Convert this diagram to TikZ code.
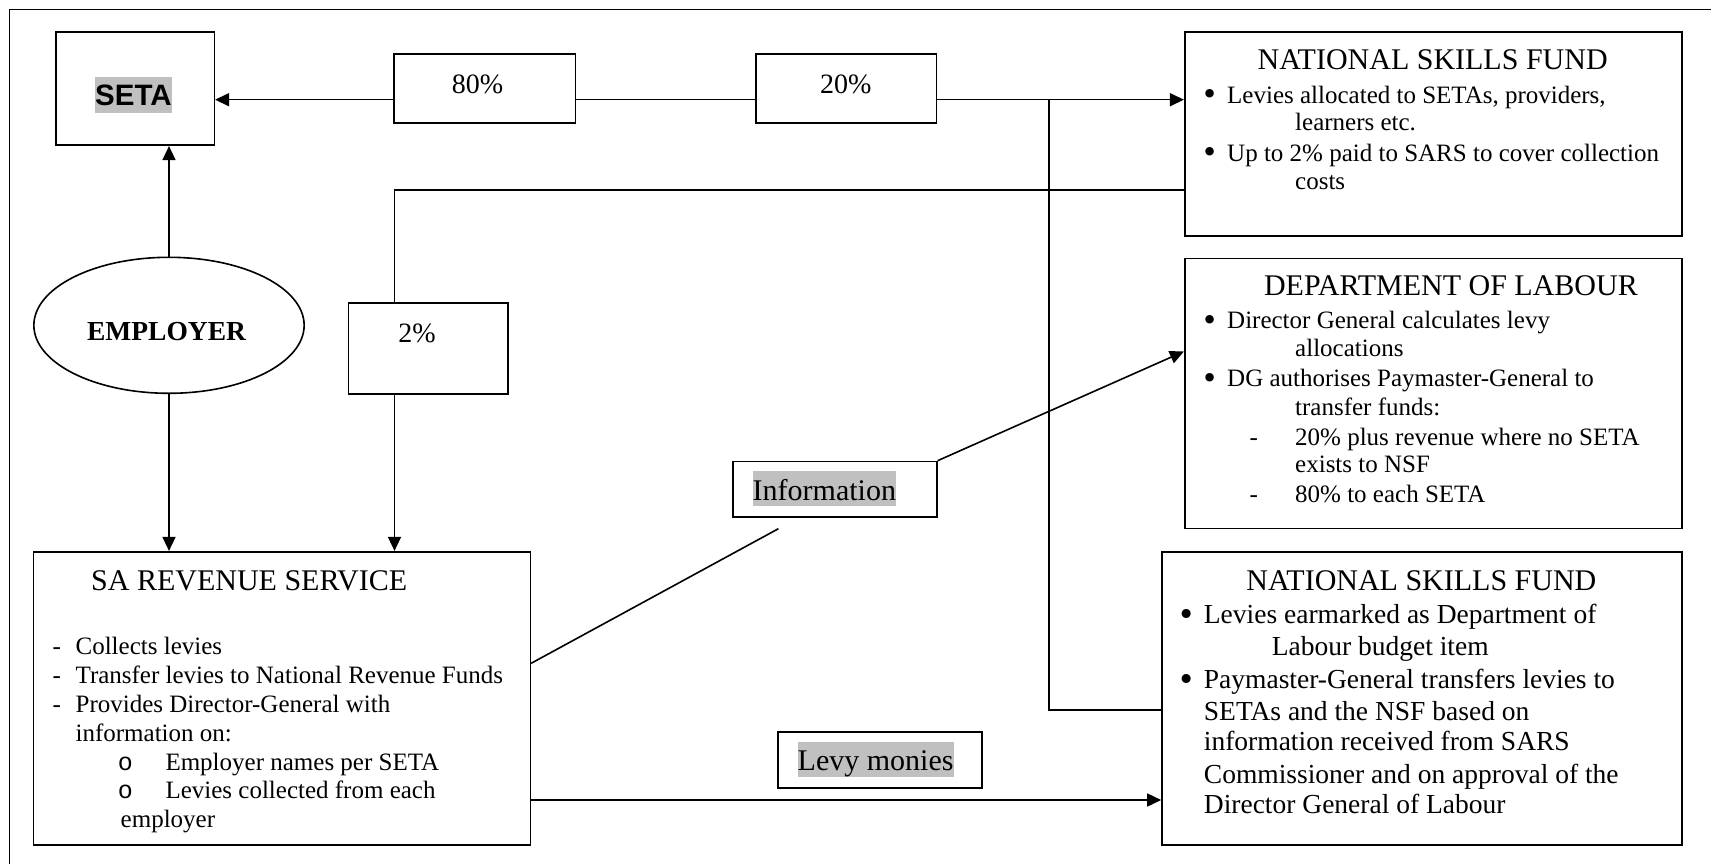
\documentclass[tikz,border=0pt]{standalone}
\usepackage{fontspec}
\setmainfont{Liberation Serif}
\newfontfamily\arialfont{Liberation Sans}
\newfontfamily\dejavufont{DejaVu Sans}
\newfontfamily\monofont{Liberation Mono}
\usetikzlibrary{arrows.meta,shapes.geometric}
\definecolor{hl}{RGB}{192,192,192}
\begin{document}
\begin{tikzpicture}[x=1pt,y=-1pt,
  box/.style={draw, line width=1.6pt, inner sep=0pt, rectangle},
  conn/.style={line width=1.6pt},
  arr/.style={conn, -{Triangle[length=14pt,width=13pt]}},
  body/.style={inner sep=0pt, anchor=base west, font=\fontsize{25pt}{29pt}\selectfont},
  bodyb/.style={inner sep=0pt, anchor=base west, font=\fontsize{27.5pt}{31pt}\selectfont},
  ttl/.style={inner sep=0pt, font=\fontsize{30pt}{34pt}\selectfont},
  pct/.style={inner sep=0pt, anchor=base, font=\fontsize{28pt}{32pt}\selectfont},
  bul/.style={inner sep=0pt, anchor=base, font=\dejavufont\fontsize{29pt}{32pt}\selectfont},
  bulb/.style={inner sep=0pt, anchor=base, font=\dejavufont\fontsize{31pt}{34pt}\selectfont},
  mono/.style={inner sep=0pt, anchor=base, font=\monofont\fontsize{25pt}{29pt}\selectfont},
  hlt/.style={inner sep=0pt, anchor=base west, fill=hl},
]
\useasboundingbox (0,0) rectangle (1711,864);
% outer frame
\draw[line width=1.5pt] (9.5,864) -- (9.5,9.5) -- (1711,9.5);

% boxes
\node[box, minimum width=158.4pt, minimum height=113pt] (seta) at (135.1,88.8) {};
\node[box, minimum width=181.5pt, minimum height=68.7pt] (p80) at (484.75,88.65) {};
\node[box, minimum width=180.5pt, minimum height=68.7pt] (p20) at (846.25,88.65) {};
\node[box, minimum width=497.3pt, minimum height=203.4pt] (nsf1) at (1433.35,134) {};
\node[box, minimum width=497.3pt, minimum height=270pt] (dol) at (1433.35,393.3) {};
\node[box, minimum width=159.6pt, minimum height=91.3pt] (p2) at (428.4,348.35) {};
\node[draw, ellipse, line width=1.6pt, inner sep=0pt, minimum width=270.3pt, minimum height=136pt] (emp) at (169,325.3) {};
\node[box, minimum width=204pt, minimum height=55.2pt] (info) at (834.8,489.1) {};
\node[box, minimum width=204pt, minimum height=55.7pt] (levy) at (880,759.85) {};
\node[box, minimum width=496.7pt, minimum height=293.3pt] (sars) at (282,698.35) {};
\node[box, minimum width=520pt, minimum height=293.3pt] (nsf2) at (1422,698.35) {};

% short labels
\node[hlt, text height=29pt, text depth=6.7pt, font=\arialfont\bfseries\fontsize{29.5pt}{33pt}\selectfont] (setat) at (95,106) {SETA};
\node[pct] (p80t) at (477.6,93.3) {80\%};
\node[pct] (p20t) at (845.8,93.3) {20\%};
\node[pct] (p2t) at (417,342.7) {2\%};
\node[inner sep=0pt, anchor=base, font=\bfseries\fontsize{27.5pt}{32pt}\selectfont] (empt) at (166.5,340) {EMPLOYER};
\node[hlt, text height=29pt, text depth=6pt, font=\fontsize{30pt}{34pt}\selectfont] (infot) at (752.5,500) {Information};
\node[hlt, text height=28.7pt, text depth=6pt, font=\fontsize{30pt}{34pt}\selectfont] (levyt) at (797.5,770.7) {Levy monies};

% NSF 1
\node[ttl, anchor=base] (n1t) at (1432.7,70) {NATIONAL SKILLS FUND};
\node[bul] (n1b1) at (1209.7,105) {•};
\node[body] (n1l1) at (1227,103.3) {Levies allocated to SETAs, providers,};
\node[body] (n1l2) at (1295,131) {learners etc.};
\node[bul] (n1b2) at (1209.7,162.7) {•};
\node[body] (n1l3) at (1227,161) {Up to 2\% paid to SARS to cover collection};
\node[body] (n1l4) at (1295,189.3) {costs};

% Department of Labour
\node[ttl, anchor=base west] (dt) at (1263.8,295.7) {DEPARTMENT OF LABOUR};
\node[bul] (db1) at (1209.7,330) {•};
\node[body] (dl1) at (1227,328.3) {Director General calculates levy};
\node[body] (dl2) at (1295,356) {allocations};
\node[bul] (db2) at (1209.7,388.4) {•};
\node[body] (dl3) at (1227,386.7) {DG authorises Paymaster-General to};
\node[body] (dl4) at (1295,415.7) {transfer funds:};
\node[body] (dd1) at (1249.5,445) {-};
\node[body] (dl5) at (1295,445) {20\% plus revenue where no SETA};
\node[body] (dl6) at (1295,472.7) {exists to NSF};
\node[body] (dd2) at (1249.5,502.7) {-};
\node[body] (dl7) at (1295,502.7) {80\% to each SETA};

% NSF 2
\node[ttl, anchor=base] (n2t) at (1421.4,590) {NATIONAL SKILLS FUND};
\node[bulb] (n2b1) at (1187,625) {•};
\node[bodyb] (n2l1) at (1203.7,623.3) {Levies earmarked as Department of};
\node[bodyb] (n2l2) at (1271.6,655) {Labour budget item};
\node[bulb] (n2b2) at (1187,690) {•};
\node[bodyb] (n2l3) at (1203.7,688.3) {Paymaster-General transfers levies to};
\node[bodyb] (n2l4) at (1203.7,720) {SETAs and the NSF based on};
\node[bodyb] (n2l5) at (1203.7,750) {information received from SARS};
\node[bodyb] (n2l6) at (1203.7,783.3) {Commissioner and on approval of the};
\node[bodyb] (n2l7) at (1203.7,813.3) {Director General of Labour};

% SARS
\node[ttl, anchor=base west] (st) at (91,590) {SA REVENUE SERVICE};
\node[body] (sd1) at (52.5,654) {-};
\node[body] (sl1) at (75.4,654) {Collects levies};
\node[body] (sd2) at (52.5,683.3) {-};
\node[body] (sl2) at (75.4,683.3) {Transfer levies to National Revenue Funds};
\node[body] (sd3) at (52.5,712.3) {-};
\node[body] (sl3) at (75.4,712.3) {Provides Director-General with};
\node[body] (sl4) at (75.4,741) {information on:};
\node[mono] (so1) at (125.3,770) {o};
\node[body] (sl5) at (165.3,770) {Employer names per SETA};
\node[mono] (so2) at (125.3,798.7) {o};
\node[body] (sl6) at (165.3,798.7) {Levies collected from each};
\node[body] (sl7) at (120.5,827.3) {employer};

% connectors
\coordinate (ya) at (0,99.7);
\coordinate (yb) at (0,709.7);
\coordinate (yc) at (0,190);
\coordinate (yd) at (0,663.3);
\coordinate (ye) at (0,351.5);
\coordinate (yf) at (0,800);
\coordinate (jx) at (1049,0);
\coordinate (xc) at (394.5,0);
\coordinate (infoend) at (778.4,528.7);

\draw[arr] (p80.west |- ya) -- (seta.east |- ya);
\draw[conn] (p80.east |- ya) -- (p20.west |- ya);
\draw[arr] (p20.east |- ya) -- (nsf1.west |- ya);
\draw[conn] (jx |- ya) -- (jx |- yb) -- (nsf2.west |- yb);
\draw[conn] (nsf1.west |- yc) -- (xc |- yc) -- (xc |- p2.north);
\draw[arr] (xc |- p2.south) -- (xc |- sars.north);
\draw[arr] (emp.south) -- (emp.south |- sars.north);
\draw[arr] (emp.north) -- (emp.north |- seta.south);
\draw[conn] (sars.east |- yd) -- (infoend);
\draw[arr] (info.north east) -- (dol.west |- ye);
\draw[arr] (sars.east |- yf) -- (nsf2.west |- yf);
\end{tikzpicture}
\end{document}
